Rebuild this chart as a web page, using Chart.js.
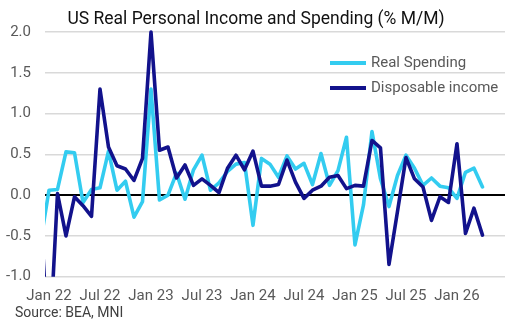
<!DOCTYPE html>
<html>
<head>
<meta charset="utf-8">
<script src="https://cdn.jsdelivr.net/npm/chart.js@4"></script>
<style>
  html, body { margin: 0; padding: 0; background: #ffffff; }
  #wrap { width: 510px; height: 329px; position: relative; }
</style>
</head>
<body>
<div id="wrap"><canvas id="c" width="510" height="329"></canvas></div>
<script>
// ---- Data ----
const months = [
  'Dec 21',
  'Jan 22','Feb 22','Mar 22','Apr 22','May 22','Jun 22','Jul 22','Aug 22','Sep 22','Oct 22','Nov 22','Dec 22',
  'Jan 23','Feb 23','Mar 23','Apr 23','May 23','Jun 23','Jul 23','Aug 23','Sep 23','Oct 23','Nov 23','Dec 23',
  'Jan 24','Feb 24','Mar 24','Apr 24','May 24','Jun 24','Jul 24','Aug 24','Sep 24','Oct 24','Nov 24','Dec 24',
  'Jan 25','Feb 25','Mar 25','Apr 25','May 25','Jun 25','Jul 25','Aug 25','Sep 25','Oct 25','Nov 25','Dec 25',
  'Jan 26','Feb 26','Mar 26','Apr 26'
];
const realSpending = [
  -0.58,
  0.06, 0.07, 0.53, 0.52, -0.09, 0.07, 0.09, 0.54, 0.06, 0.17, -0.27, -0.08,
  1.30, -0.06, 0.00, 0.27, -0.05, 0.31, 0.49, 0.06, 0.15, 0.29, 0.38, 0.40,
  -0.37, 0.45, 0.38, 0.22, 0.48, 0.32, 0.39, 0.13, 0.51, 0.12, 0.30, 0.71,
  -0.61, -0.12, 0.78, 0.20, -0.14, 0.24, 0.49, 0.33, 0.12, 0.21, 0.11, 0.09,
  -0.04, 0.28, 0.33, 0.10
];
const disposableIncome = [
  -0.20,
  -2.00, 0.02, -0.50, -0.02, -0.13, -0.26, 1.30, 0.59, 0.36, 0.32, 0.18, 0.45,
  2.00, 0.55, 0.59, 0.21, 0.37, 0.12, 0.20, 0.12, 0.03, 0.33, 0.49, 0.31,
  0.54, 0.11, 0.11, 0.13, 0.43, 0.16, -0.04, 0.06, 0.11, 0.22, 0.24, 0.08,
  0.12, 0.11, 0.67, 0.58, -0.85, -0.20, 0.46, 0.20, 0.10, -0.31, -0.02, -0.09,
  0.63, -0.47, -0.16, -0.49
];
const xTickLabels = ['Jan 22','Jul 22','Jan 23','Jul 23','Jan 24','Jul 24','Jan 25','Jul 25','Jan 26'];
const yTickValues = [-1.0, -0.5, 0.0, 0.5, 1.0, 1.5, 2.0];
const seriesNames = ['Real Spending', 'Disposable income'];
const titleText = 'US Real Personal Income and Spending (% M/M)';
const sourceText = 'Source: BEA, MNI';

// ---- Styles ----
const COL_SPEND = '#33CCF0';
const COL_INC = '#12128C';
const FONT = 'Roboto, "Noto Sans", sans-serif';

const toPoints = arr => arr.map((v, i) => ({ x: i, y: v }));

const overlayPlugin = {
  id: 'overlay',
  afterDraw(chart) {
    const ctx = chart.ctx;
    ctx.save();
    // title
    ctx.fillStyle = '#111111';
    ctx.font = '17.5px ' + FONT;
    ctx.textAlign = 'center';
    ctx.textBaseline = 'alphabetic';
    ctx.fillText(titleText, 256, 24);
    // legend
    const rows = [chart.data.datasets[1], chart.data.datasets[0]];
    const ys = [63, 88];
    rows.forEach((ds, k) => {
      ctx.strokeStyle = ds.borderColor;
      ctx.lineWidth = 4;
      ctx.lineCap = 'butt';
      ctx.beginPath();
      ctx.moveTo(330, ys[k]);
      ctx.lineTo(366, ys[k]);
      ctx.stroke();
      ctx.fillStyle = '#595959';
      ctx.font = '15px ' + FONT;
      ctx.textAlign = 'left';
      ctx.textBaseline = 'middle';
      ctx.fillText(ds.label, 371, ys[k] + 0.5);
    });
    // source
    ctx.fillStyle = '#404040';
    ctx.font = '14px ' + FONT;
    ctx.textAlign = 'left';
    ctx.textBaseline = 'middle';
    ctx.fillText(sourceText, 15, 313);
    ctx.restore();
  }
};

new Chart(document.getElementById('c'), {
  type: 'line',
  data: {
    datasets: [
      {
        label: seriesNames[1],
        data: toPoints(disposableIncome),
        borderColor: COL_INC,
        backgroundColor: COL_INC,
        borderWidth: 3.6,
        pointRadius: 0,
        tension: 0,
        borderJoinStyle: 'round',
        borderCapStyle: 'round',
        clip: { left: 0, right: 0, top: 4, bottom: 0 },
        order: 0
      },
      {
        label: seriesNames[0],
        data: toPoints(realSpending),
        borderColor: COL_SPEND,
        backgroundColor: COL_SPEND,
        borderWidth: 3.6,
        pointRadius: 0,
        tension: 0,
        borderJoinStyle: 'round',
        borderCapStyle: 'round',
        clip: { left: 0, right: 0, top: 4, bottom: 0 },
        order: 1
      }
    ]
  },
  options: {
    responsive: false,
    animation: false,
    devicePixelRatio: 1,
    layout: { padding: { top: 32, left: 0, right: 5, bottom: 0 } },
    plugins: {
      legend: { display: false },
      title: { display: false },
      tooltip: { enabled: false }
    },
    scales: {
      x: {
        type: 'linear',
        min: months.indexOf('Jan 22') - 0.47,
        max: months.indexOf('Jan 22') + 53.65,
        afterFit(scale) { scale.height = 52.3; },
        afterBuildTicks(scale) {
          scale.ticks = xTickLabels.map(l => ({ value: months.indexOf(l) }));
        },
        ticks: {
          autoSkip: false,
          maxRotation: 0,
          padding: 11,
          color: '#595959',
          font: { family: FONT, size: 15 },
          callback: v => months[v]
        },
        grid: { display: false, drawTicks: false },
        border: { display: false }
      },
      y: {
        min: -1,
        max: 2,
        afterFit(scale) { scale.width = 45; },
        afterBuildTicks(scale) {
          scale.ticks = yTickValues.map(v => ({ value: v }));
        },
        ticks: {
          padding: 14,
          color: '#595959',
          font: { family: FONT, size: 15 },
          callback: v => Number(v).toFixed(1)
        },
        grid: {
          drawTicks: false,
          color: ctx => (ctx.tick && ctx.tick.value === 0) ? '#000000' : '#D9D9D9',
          lineWidth: ctx => (ctx.tick && ctx.tick.value === 0) ? 2 : 1.5
        },
        border: { display: false }
      }
    }
  },
  plugins: [overlayPlugin]
});
</script>
</body>
</html>
